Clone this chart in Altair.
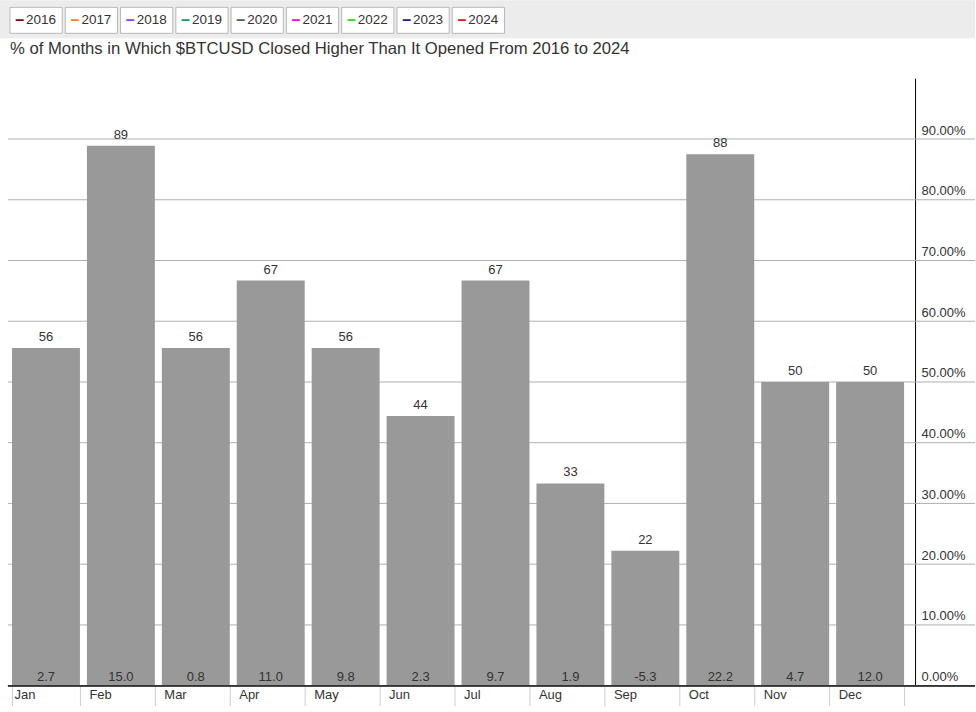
import altair as alt
import pandas as pd

months = ["Jan", "Feb", "Mar", "Apr", "May", "Jun", "Jul", "Aug", "Sep", "Oct", "Nov", "Dec"]
pct_up = [55.6, 88.9, 55.6, 66.7, 55.6, 44.4, 66.7, 33.3, 22.2, 87.5, 50.0, 50.0]
avg_ret = [2.7, 15.0, 0.8, 11.0, 9.8, 2.3, 9.7, 1.9, -5.3, 22.2, 4.7, 12.0]
years = ["2016", "2017", "2018", "2019", "2020", "2021", "2022", "2023", "2024"]
year_colors = ["#8b0000", "#ff7f27", "#8c3cff", "#12967a", "#5a5a5a",
               "#ff00ff", "#22dd22", "#1a1a9a", "#e8101a"]
y_ticks = [0, 10, 20, 30, 40, 50, 60, 70, 80, 90]
title_text = "% of Months in Which $BTCUSD Closed Higher Than It Opened From 2016 to 2024"

FONT = "Liberation Sans"
TXT = "#333333"

df = pd.DataFrame({"month": months, "pct": pct_up, "ret": avg_ret})
grid_df = pd.DataFrame({"v": y_ticks})
leg_df = pd.DataFrame({"year": years, "color": year_colors})

# ---------- legend strip ----------
leg_x = alt.X("year:N", sort=years, axis=None,
              scale=alt.Scale(range=[10, 505], paddingInner=0.055, paddingOuter=0))
boxes = alt.Chart(leg_df).mark_rect(fill="white", stroke="#b8b8b8", strokeWidth=1).encode(
    x=leg_x, y=alt.value(7), y2=alt.value(33))
dashes = alt.Chart(leg_df).mark_text(text="–", font=FONT, fontSize=16, fontWeight="bold",
                                     dx=-16.5, baseline="middle").encode(
    x=leg_x, y=alt.value(20), color=alt.Color("color:N", scale=None, legend=None))
leg_labels = alt.Chart(leg_df).mark_text(align="left", dx=-10, font=FONT, fontSize=13.5,
                                         color=TXT, baseline="middle").encode(
    x=leg_x, y=alt.value(20), text="year:N")
legend = alt.layer(boxes, dashes, leg_labels).properties(
    width=976, height=38, view=alt.ViewBackground(fill="#ececec", strokeWidth=0))

# ---------- main chart ----------
x_enc = alt.X("month:N", sort=months,
              scale=alt.Scale(paddingInner=0.0933, paddingOuter=0.1533, align=0.522),
              axis=alt.Axis(title=None, domain=False, ticks=True, tickBand="extent",
                            tickSize=20, tickColor="#cccccc", labelAlign="left",
                            labelOffset=-32, labelPadding=-17, labelBaseline="top",
                            labelFontSize=13, labelColor=TXT, labelFont=FONT, labelAngle=0))
y_scale = alt.Scale(domain=[0, 100], nice=False)
y_axis = alt.Axis(orient="right", title=None, values=y_ticks, grid=False, ticks=False,
                  domain=True, domainColor="#000000", domainWidth=1,
                  labelExpr="format(datum.value, '.2f') + '%'",
                  labelBaseline="alphabetic", labelOffset=-5, labelPadding=6,
                  labelAlign="left", labelFontSize=13, labelColor=TXT, labelFont=FONT)

grid = alt.Chart(grid_df).mark_rule(color="#b0b0b0", strokeWidth=1).encode(
    y=alt.Y("v:Q", scale=y_scale, axis=y_axis), x=alt.value(8), x2=alt.value(976))
bars = alt.Chart(df).mark_bar(color="#999999").encode(
    x=x_enc, y=alt.Y("pct:Q", scale=y_scale, axis=y_axis))
baseline = alt.Chart(df).mark_rule(color="#333333", strokeWidth=1).encode(
    y=alt.datum(0), x=alt.value(8), x2=alt.value(976))
top_labels = alt.Chart(df).mark_text(dy=-11, font=FONT, fontSize=13, color=TXT,
                                     baseline="middle").encode(
    x=x_enc, y=alt.Y("pct:Q", scale=y_scale, axis=y_axis),
    text=alt.Text("pct:Q", format=".0f"))
bottom_labels = alt.Chart(df).transform_calculate(
    ret_str="replace(format(datum.ret, '.1f'), '\u2212', '-')"
).mark_text(dy=-9, font=FONT, fontSize=13, color=TXT, baseline="middle").encode(
    x=x_enc, y=alt.datum(0), text="ret_str:N")

main = alt.layer(grid, bars, baseline, top_labels, bottom_labels).properties(
    width=916, height=608,
    title=alt.TitleParams(text=title_text, anchor="start", frame="group", fontSize=16.7,
                          font=FONT, fontWeight="normal", color=TXT, offset=24, dx=10, dy=3))

chart = alt.vconcat(legend, main, spacing=2).properties(
    padding=0, background="white").configure_view(strokeWidth=0)

chart.save("out.html", embed_options={"renderer": "svg", "actions": False})
